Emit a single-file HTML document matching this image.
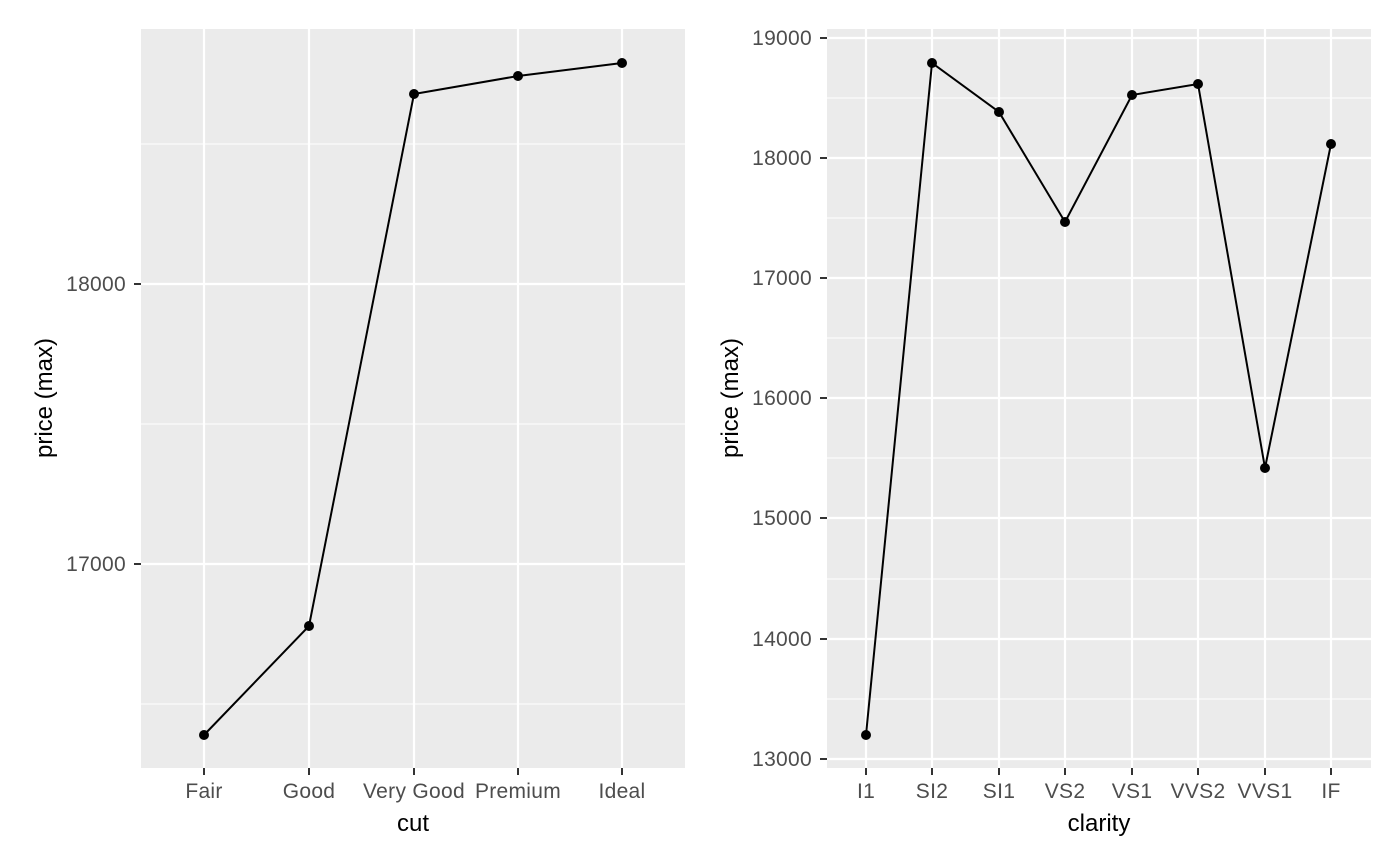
<!DOCTYPE html>
<html><head><meta charset="utf-8"><style>html,body{margin:0;padding:0;background:#fff}svg{display:block}text{font-family:"Liberation Sans",Arial,sans-serif}</style></head>
<body>
<svg width="1400" height="866" xmlns="http://www.w3.org/2000/svg">
<rect width="1400" height="866" fill="#fff"/>
<!-- Left panel -->
<rect x="141" y="29" width="544" height="739" fill="#ebebeb"/>
<g stroke="#fff" stroke-width="1.1">
<line x1="141" x2="685" y1="144" y2="144"/><line x1="141" x2="685" y1="424" y2="424"/><line x1="141" x2="685" y1="704" y2="704"/>
</g>
<g stroke="#fff" stroke-width="2.2">
<line x1="141" x2="685" y1="284" y2="284"/><line x1="141" x2="685" y1="564" y2="564"/>
<line x1="204" x2="204" y1="29" y2="768"/><line x1="309" x2="309" y1="29" y2="768"/><line x1="414" x2="414" y1="29" y2="768"/><line x1="518" x2="518" y1="29" y2="768"/><line x1="622" x2="622" y1="29" y2="768"/>
</g>
<polyline fill="none" stroke="#000" stroke-width="2" points="204,735 309,626 414,94 518,76 622,63"/>
<g fill="#000"><circle cx="204" cy="735" r="5"/><circle cx="309" cy="626" r="5"/><circle cx="414" cy="94" r="5"/><circle cx="518" cy="76" r="5"/><circle cx="622" cy="63" r="5"/></g>
<g stroke="#333" stroke-width="2">
<line x1="134" x2="141" y1="284" y2="284"/><line x1="134" x2="141" y1="564" y2="564"/>
<line x1="204" x2="204" y1="768" y2="775"/><line x1="309" x2="309" y1="768" y2="775"/><line x1="414" x2="414" y1="768" y2="775"/><line x1="518" x2="518" y1="768" y2="775"/><line x1="622" x2="622" y1="768" y2="775"/>
</g>
<g fill="#4d4d4d" font-size="21" letter-spacing="0.3" text-anchor="end">
<text x="126" y="291">18000</text><text x="126" y="571">17000</text>
</g>
<g fill="#4d4d4d" font-size="21" letter-spacing="0.3" text-anchor="middle">
<text x="204" y="798">Fair</text><text x="309" y="798">Good</text><text x="414" y="798">Very Good</text><text x="518" y="798">Premium</text><text x="622" y="798">Ideal</text>
</g>
<text x="413" y="831" font-size="24" text-anchor="middle">cut</text>
<text transform="translate(52,398) rotate(-90)" font-size="24" text-anchor="middle">price (max)</text>
<!-- Right panel -->
<rect x="827" y="29" width="544" height="739" fill="#ebebeb"/>
<g stroke="#fff" stroke-width="1.1">
<line x1="827" x2="1371" y1="98" y2="98"/><line x1="827" x2="1371" y1="218" y2="218"/><line x1="827" x2="1371" y1="338" y2="338"/><line x1="827" x2="1371" y1="458" y2="458"/><line x1="827" x2="1371" y1="579" y2="579"/><line x1="827" x2="1371" y1="699" y2="699"/>
</g>
<g stroke="#fff" stroke-width="2.2">
<line x1="827" x2="1371" y1="38" y2="38"/><line x1="827" x2="1371" y1="158" y2="158"/><line x1="827" x2="1371" y1="278" y2="278"/><line x1="827" x2="1371" y1="398" y2="398"/><line x1="827" x2="1371" y1="518" y2="518"/><line x1="827" x2="1371" y1="639" y2="639"/><line x1="827" x2="1371" y1="759" y2="759"/>
<line x1="866" x2="866" y1="29" y2="768"/><line x1="932" x2="932" y1="29" y2="768"/><line x1="999" x2="999" y1="29" y2="768"/><line x1="1065" x2="1065" y1="29" y2="768"/><line x1="1132" x2="1132" y1="29" y2="768"/><line x1="1198" x2="1198" y1="29" y2="768"/><line x1="1265" x2="1265" y1="29" y2="768"/><line x1="1331" x2="1331" y1="29" y2="768"/>
</g>
<polyline fill="none" stroke="#000" stroke-width="2" points="866,735 932,63 999,112 1065,222 1132,95 1198,84 1265,468 1331,144"/>
<g fill="#000"><circle cx="866" cy="735" r="5"/><circle cx="932" cy="63" r="5"/><circle cx="999" cy="112" r="5"/><circle cx="1065" cy="222" r="5"/><circle cx="1132" cy="95" r="5"/><circle cx="1198" cy="84" r="5"/><circle cx="1265" cy="468" r="5"/><circle cx="1331" cy="144" r="5"/></g>
<g stroke="#333" stroke-width="2">
<line x1="820" x2="827" y1="38" y2="38"/><line x1="820" x2="827" y1="158" y2="158"/><line x1="820" x2="827" y1="278" y2="278"/><line x1="820" x2="827" y1="398" y2="398"/><line x1="820" x2="827" y1="518" y2="518"/><line x1="820" x2="827" y1="639" y2="639"/><line x1="820" x2="827" y1="759" y2="759"/>
<line x1="866" x2="866" y1="768" y2="775"/><line x1="932" x2="932" y1="768" y2="775"/><line x1="999" x2="999" y1="768" y2="775"/><line x1="1065" x2="1065" y1="768" y2="775"/><line x1="1132" x2="1132" y1="768" y2="775"/><line x1="1198" x2="1198" y1="768" y2="775"/><line x1="1265" x2="1265" y1="768" y2="775"/><line x1="1331" x2="1331" y1="768" y2="775"/>
</g>
<g fill="#4d4d4d" font-size="21" letter-spacing="0.3" text-anchor="end">
<text x="812" y="45">19000</text><text x="812" y="165">18000</text><text x="812" y="285">17000</text><text x="812" y="405">16000</text><text x="812" y="525">15000</text><text x="812" y="646">14000</text><text x="812" y="766">13000</text>
</g>
<g fill="#4d4d4d" font-size="21" letter-spacing="0.3" text-anchor="middle">
<text x="866" y="798">I1</text><text x="932" y="798">SI2</text><text x="999" y="798">SI1</text><text x="1065" y="798">VS2</text><text x="1132" y="798">VS1</text><text x="1198" y="798">VVS2</text><text x="1265" y="798">VVS1</text><text x="1331" y="798">IF</text>
</g>
<text x="1099" y="831" font-size="24" text-anchor="middle">clarity</text>
<text transform="translate(738,398) rotate(-90)" font-size="24" text-anchor="middle">price (max)</text>
</svg>
</body></html>
